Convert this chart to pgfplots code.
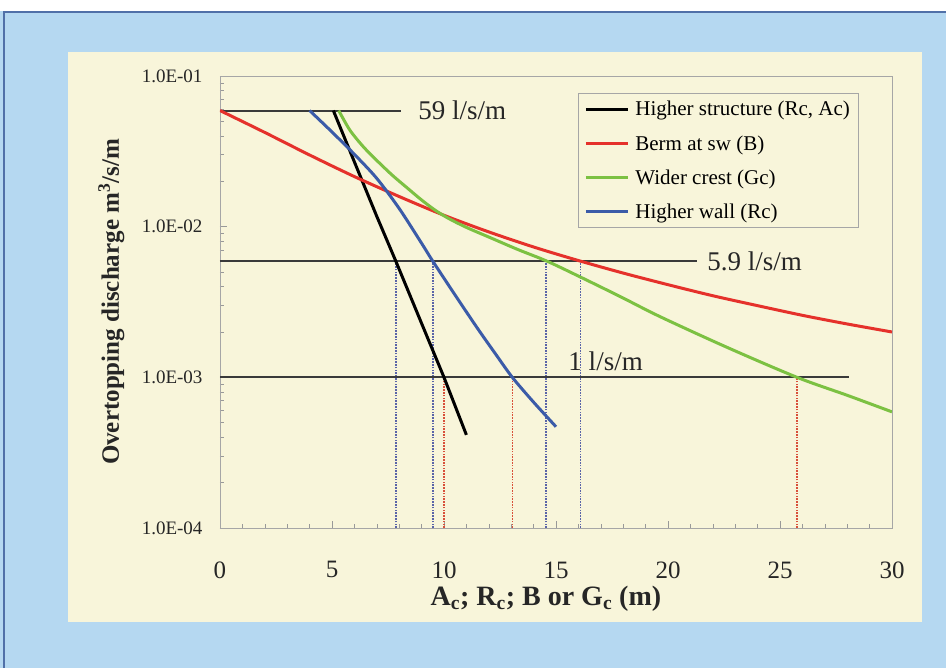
\documentclass[border=0pt]{standalone}
\usepackage{pgfplots}
\pgfplotsset{compat=1.18}
\usepackage{fontspec}
\setmainfont{Liberation Serif}
\definecolor{bgblue}{HTML}{B5D8F1}
\definecolor{cream}{HTML}{F8F5DA}
\definecolor{cred}{HTML}{E5312B}
\definecolor{cgreen}{HTML}{7CC142}
\definecolor{cblue}{HTML}{3B5BA8}
\definecolor{refline}{HTML}{3A3A3A}
\definecolor{dotblue}{HTML}{5A64A8}
\definecolor{dotred}{HTML}{D8503A}
\definecolor{frame}{HTML}{5070A8}
\begin{document}
\begin{tikzpicture}[x=1pt,y=1pt]
\useasboundingbox (0,0) rectangle (946,668);
\fill[bgblue] (0,0) rectangle (946,668);
\fill[white] (0,657) rectangle (946,668);
\draw[line width=1.5pt, frame] (4,0) -- (4,656) -- (946,656);
\fill[cream] (68,46) rectangle (922,616);
\begin{axis}[
  at={(220pt,140pt)}, anchor=south west,
  scale only axis, width=672pt, height=452pt,
  ymode=log, xmin=0, xmax=30, ymin=1e-4, ymax=1e-1,
  axis background/.style={fill=cream},
  axis line style={gray!70, line width=0.8pt},
  xtick={0,5,...,30}, minor x tick num=4,
  ytick={1e-4,1e-3,1e-2,1e-1},
  yticklabels={1.0E-04,1.0E-03,1.0E-02,1.0E-01},
  tick align=inside, xtick pos=bottom, ytick pos=left,
  major tick length=7pt, minor tick length=4pt,
  every tick/.style={gray!80, line width=0.6pt},
  /pgf/number format/assume math mode=true,
  xticklabel style={font=\fontsize{25}{28}\selectfont, yshift=-30pt, text=black!85},
  yticklabel style={font=\fontsize{19}{22}\selectfont, xshift=-14pt, text=black!85},
  xlabel={\textbf{A\textsubscript{c}; R\textsubscript{c}; B or G\textsubscript{c} (m)}},
  xlabel style={at={(axis description cs:0.485,0)}, anchor=north, yshift=-55pt, font=\fontsize{28}{30}\selectfont, text=black!85},
  ylabel={\textbf{Overtopping discharge m\textsuperscript{3}/s/m}},
  ylabel style={at={(axis description cs:-0.137,0.5)}, anchor=south, font=\fontsize{25}{28}\selectfont, text=black!85},
  legend style={at={(0.533,0.962)}, anchor=north west, draw=gray!70, fill=cream,
    font=\fontsize{21}{24}\selectfont, row sep=14pt, inner xsep=6pt, inner ysep=6pt},
  legend cell align=left,
  legend image code/.code={\draw[#1] (21pt,0pt) -- (63pt,0pt); \path (67pt,0pt);},
]
% vertical dotted guide lines
\pgfplotsset{dotstyle/.style={dash pattern=on 1.6pt off 1.2pt, line width=1.6pt, forget plot}}
\addplot[dotblue, dotstyle] coordinates {(7.85,1e-4) (7.85,0.0059)};
\addplot[dotblue, dotstyle] coordinates {(9.5,1e-4) (9.5,0.0059)};
\addplot[dotblue, dotstyle] coordinates {(14.55,1e-4) (14.55,0.0059)};
\addplot[dotblue, dotstyle] coordinates {(16.1,1e-4) (16.1,0.0059)};
\addplot[dotred, dotstyle] coordinates {(10.0,1e-4) (10.0,0.001)};
\addplot[dotred, dotstyle] coordinates {(13.05,1e-4) (13.05,0.001)};
\addplot[dotred, dotstyle] coordinates {(25.75,1e-4) (25.75,0.001)};
% horizontal reference lines
\addplot[refline, line width=2pt, forget plot] coordinates {(0,0.059) (8.1,0.059)};
\addplot[refline, line width=2pt, forget plot] coordinates {(0,0.0059) (21.3,0.0059)};
\addplot[refline, line width=2pt, forget plot] coordinates {(0,0.001) (28.1,0.001)};
% curves
\addplot[black, line width=3pt] coordinates {(5.06,0.059) (6,0.0269) (7,0.0117) (7.85,0.0059) (9,0.00228) (10,0.001) (11,0.000415)};
\addlegendentry{Higher structure (Rc, Ac)}
\addplot[cred, line width=3pt, smooth] coordinates {(0,0.059) (2,0.0422) (4,0.0299) (6,0.0215) (8,0.01585) (10,0.0119) (12,0.00923) (14,0.00733) (16,0.00596) (18,0.00492) (20,0.00412) (22,0.00348) (24,0.00299) (26,0.00258) (28,0.00226) (30,0.0020)};
\addlegendentry{Berm at sw (B)}
\addplot[cgreen, line width=3pt, smooth] coordinates {(5.3,0.059) (5.8,0.0437) (6.4,0.0339) (7.0,0.0275) (7.7,0.0219) (8.4,0.01786) (9.0,0.01503) (9.6,0.01288) (10.2,0.01135) (11,0.00989) (12.1,0.00841) (13.3,0.00705) (14.6,0.0059) (16,0.0047) (17.86,0.00344) (19.64,0.00253) (22.6,0.00159) (25.76,0.001) (28,0.00076) (30,0.00059)};
\addlegendentry{Wider crest (Gc)}
\addplot[cblue, line width=3pt, smooth] coordinates {(4.0,0.059) (5,0.0425) (6,0.0302) (7,0.0209) (8,0.0132) (9,0.00776) (9.5,0.0059) (10.5,0.00351) (11.5,0.00211) (12.3,0.00143) (13.05,0.001) (14,0.000684) (15,0.00047)};
\addlegendentry{Higher wall (Rc)}
% labels
\node[anchor=west, font=\fontsize{27}{30}\selectfont, text=black!85] at (axis cs:8.7,0.059) {59 l/s/m};
\node[anchor=west, font=\fontsize{27}{30}\selectfont, text=black!85] at (axis cs:21.6,0.0059) {5.9 l/s/m};
\node[anchor=base west, font=\fontsize{27}{30}\selectfont, text=black!85] at (axis cs:15.4,0.00111) {1 l/s/m};
\end{axis}
\end{tikzpicture}
\end{document}
